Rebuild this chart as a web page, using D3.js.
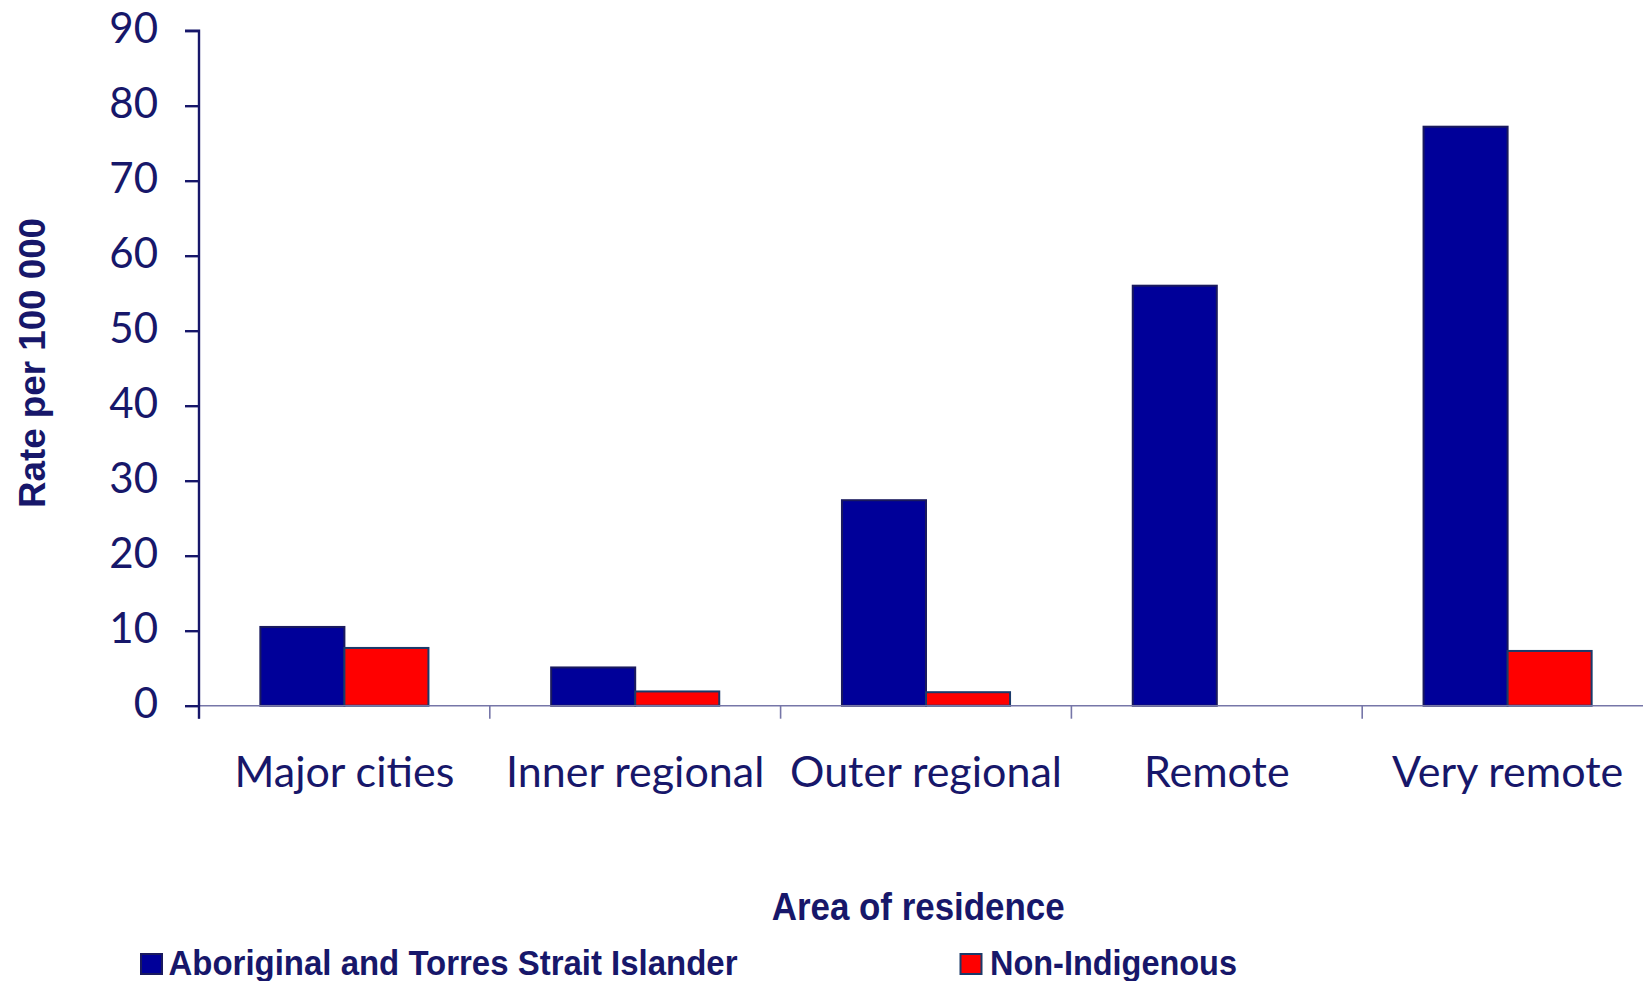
<!DOCTYPE html>
<html><head><meta charset="utf-8">
<script src="https://cdn.jsdelivr.net/npm/d3@7"></script>
<style>html,body{margin:0;padding:0;background:#fff;}svg{display:block;}</style>
</head><body>
<script>
const categories = ["Major cities", "Inner regional", "Outer regional", "Remote", "Very remote"];
const seriesNames = ["Aboriginal and Torres Strait Islander", "Non-Indigenous"];
const aboriginal = [10.5, 5.1, 27.4, 56.0, 77.2];
const nonIndigenous = [7.7, 1.9, 1.8, null, 7.3];
const yTicks = [0, 10, 20, 30, 40, 50, 60, 70, 80, 90];
const seriesColors = ["#000099", "#ff0000"];
const textColor = "#17176a";

const W = 1643, H = 981;
const svg = d3.select("body").append("svg").attr("width", W).attr("height", H);

const x0 = 199, y0 = 705.7, yTop = 30.7, bandW = 290.8;
const x = d3.scaleBand().domain(categories).range([x0, x0 + bandW * categories.length]).padding(0);
const xs = d3.scaleBand().domain(seriesNames).range([0, x.bandwidth()]).paddingInner(0).paddingOuter(0.73);
const y = d3.scaleLinear().domain([0, 90]).range([y0, yTop]);

const seriesData = [aboriginal, nonIndigenous];
const barStroke = ["#1a1a5e", "#1a3a6a"];

// bars
seriesNames.forEach((s, si) => {
  svg.append("g").selectAll("rect")
    .data(categories.map((c, i) => ({c, v: seriesData[si][i]})).filter(d => d.v != null))
    .join("rect")
    .attr("x", d => x(d.c) + xs(s))
    .attr("y", d => y(d.v))
    .attr("width", xs.bandwidth())
    .attr("height", d => y(0) - y(d.v))
    .attr("fill", seriesColors[si])
    .attr("stroke", barStroke[si])
    .attr("stroke-width", 2);
});

// x axis
const xAxisG = svg.append("g").attr("transform", `translate(0,${y0})`);
xAxisG.append("line").attr("x1", x0).attr("x2", W).attr("y1", 0).attr("y2", 0)
  .attr("stroke", "#7676a8").attr("stroke-width", 1.6);
xAxisG.selectAll("line.tick").data(categories).join("line").attr("class", "tick")
  .attr("x1", d => x(d)).attr("x2", d => x(d)).attr("y1", 0).attr("y2", 13)
  .attr("stroke", "#7676a8").attr("stroke-width", 1.6);
xAxisG.selectAll("text").data(categories).join("text")
  .attr("x", d => x(d) + x.bandwidth() / 2)
  .attr("y", 81)
  .attr("text-anchor", "middle")
  .attr("font-family", "Lato, 'Open Sans', sans-serif")
  .attr("font-size", 43)
  .attr("fill", textColor)
  .text(d => d);

// y axis
const yAxis = d3.axisLeft(y).tickValues(yTicks).tickSize(14).tickPadding(27).tickFormat(d3.format("d"));
const yAxisG = svg.append("g").attr("transform", `translate(${x0},0)`).call(yAxis);
yAxisG.select(".domain").attr("stroke", textColor).attr("stroke-width", 2.4)
  .attr("d", `M-14,${yTop}H0V${y0 + 13}`);
yAxisG.selectAll(".tick line").attr("stroke", textColor).attr("stroke-width", 2.4);
yAxisG.selectAll(".tick text")
  .attr("font-family", "Lato, 'Open Sans', sans-serif")
  .attr("font-size", 42)
  .attr("fill", textColor)
  .attr("dy", "0.28em");

// y axis title
svg.append("text")
  .attr("transform", `translate(45,363) rotate(-90)`)
  .attr("text-anchor", "middle")
  .attr("font-family", "'Liberation Sans', Arial, sans-serif")
  .attr("font-weight", "bold")
  .attr("font-size", 37)
  .attr("fill", textColor)
  .attr("textLength", 290).attr("lengthAdjust", "spacingAndGlyphs")
  .text("Rate per 100 000");

// x axis title
svg.append("text")
  .attr("x", 771.7).attr("y", 920)
  .attr("font-family", "'Liberation Sans', Arial, sans-serif")
  .attr("font-weight", "bold")
  .attr("font-size", 39)
  .attr("fill", textColor)
  .attr("textLength", 293).attr("lengthAdjust", "spacingAndGlyphs")
  .text("Area of residence");

// legend
const legendPos = [{sx: 141, tx: 168.5, tw: 569}, {sx: 960.5, tx: 990, tw: 247}];
seriesNames.forEach((s, i) => {
  const g = svg.append("g");
  g.append("rect").attr("x", legendPos[i].sx).attr("y", 954).attr("width", 21).attr("height", 20)
    .attr("fill", seriesColors[i]).attr("stroke", barStroke[i]).attr("stroke-width", 2);
  g.append("text").attr("x", legendPos[i].tx).attr("y", 974.5)
    .attr("font-family", "'Liberation Sans', Arial, sans-serif")
    .attr("font-weight", "bold")
    .attr("font-size", 35)
    .attr("fill", textColor)
    .attr("textLength", legendPos[i].tw).attr("lengthAdjust", "spacingAndGlyphs")
    .text(s);
});
</script>
</body></html>
